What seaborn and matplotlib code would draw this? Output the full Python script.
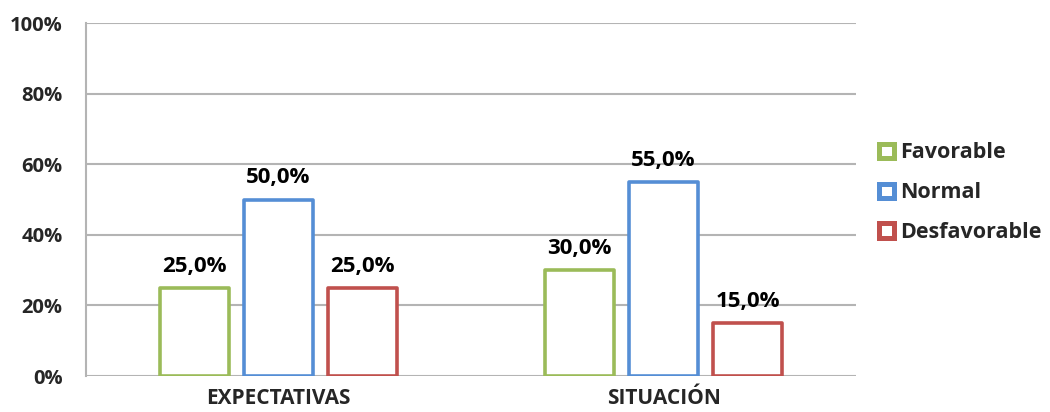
import matplotlib
matplotlib.use("Agg")
import matplotlib.pyplot as plt
import seaborn as sns
import pandas as pd
from matplotlib.patches import Patch
from matplotlib.ticker import FixedLocator, PercentFormatter

categories = ["EXPECTATIVAS", "SITUACIÓN"]
series = ["Favorable", "Normal", "Desfavorable"]
favorable = [25.0, 30.0]
normal = [50.0, 55.0]
desfavorable = [25.0, 15.0]
y_ticks = [0, 20, 40, 60, 80, 100]
colors = ["#9BBB59", "#558ED5", "#C0504D"]

rows = []
for s, vals in zip(series, [favorable, normal, desfavorable]):
    for c, v in zip(categories, vals):
        rows.append({"cat": c, "serie": s, "val": v})
df = pd.DataFrame(rows)

sns.set_theme(style="white")
plt.rcParams["font.family"] = ["Open Sans", "DejaVu Sans"]
plt.rcParams["font.weight"] = "bold"

fig = plt.figure(figsize=(10.5, 4.12), dpi=100)
ax = fig.add_axes([86/1050, 1-376/412, (856-86)/1050, (376-23)/412])

sns.barplot(data=df, x="cat", y="val", hue="serie", hue_order=series,
            order=categories, palette=colors, width=0.655, gap=0.17,
            ax=ax, legend=False, zorder=3)

for cont, col in zip(ax.containers, colors):
    for bar in cont:
        bar.set_facecolor("white")
        bar.set_edgecolor(col)
        bar.set_linewidth(2.6)
        bar.set_joinstyle("round")
    labels = [f"{b.get_height():.1f}".replace(".", ",") + "%" for b in cont]
    ax.bar_label(cont, labels=labels, padding=8, fontsize=16,
                 fontweight="bold", color="black")

ax.set_xlim(-0.5, 1.5)
ax.set_ylim(0, 100)
ax.yaxis.set_major_locator(FixedLocator(y_ticks))
ax.yaxis.set_major_formatter(PercentFormatter(decimals=0))
ax.grid(axis="y", color="#B4B4B4", linewidth=1.5, zorder=0)
ax.set_axisbelow(True)
for sp in ["top", "right", "bottom"]:
    ax.spines[sp].set_visible(False)
ax.spines["left"].set_color("#B4B4B4")
ax.spines["left"].set_linewidth(1.5)
ax.spines["left"].set_bounds(0, 100)

ax.tick_params(axis="y", length=0, labelsize=14.5, pad=17)
for t in ax.get_yticklabels():
    t.set_fontweight("bold")
ax.tick_params(axis="x", which="major", length=0, labelsize=15, pad=9)
for t in ax.get_xticklabels():
    t.set_fontweight("bold")
ax.set_xticks([-0.5, 0.5, 1.5], minor=True)
ax.tick_params(axis="x", which="minor", length=6, width=1.5, color="#B4B4B4")
ax.set_xlabel("")
ax.set_ylabel("")

handles = [Patch(facecolor="white", edgecolor=c, linewidth=3.6, label=s)
           for s, c in zip(series, colors)]
leg = ax.legend(handles=handles, loc="upper left",
                bbox_to_anchor=(879/1050, 1-142.5/412), bbox_transform=fig.transFigure,
                frameon=False, fontsize=15.5, handlelength=0.68, handleheight=0.68,
                handletextpad=0.3, labelspacing=0.88, borderaxespad=0, borderpad=0)
for t in leg.get_texts():
    t.set_fontweight("bold")

fig.savefig("out.png", dpi=100, facecolor="white")
